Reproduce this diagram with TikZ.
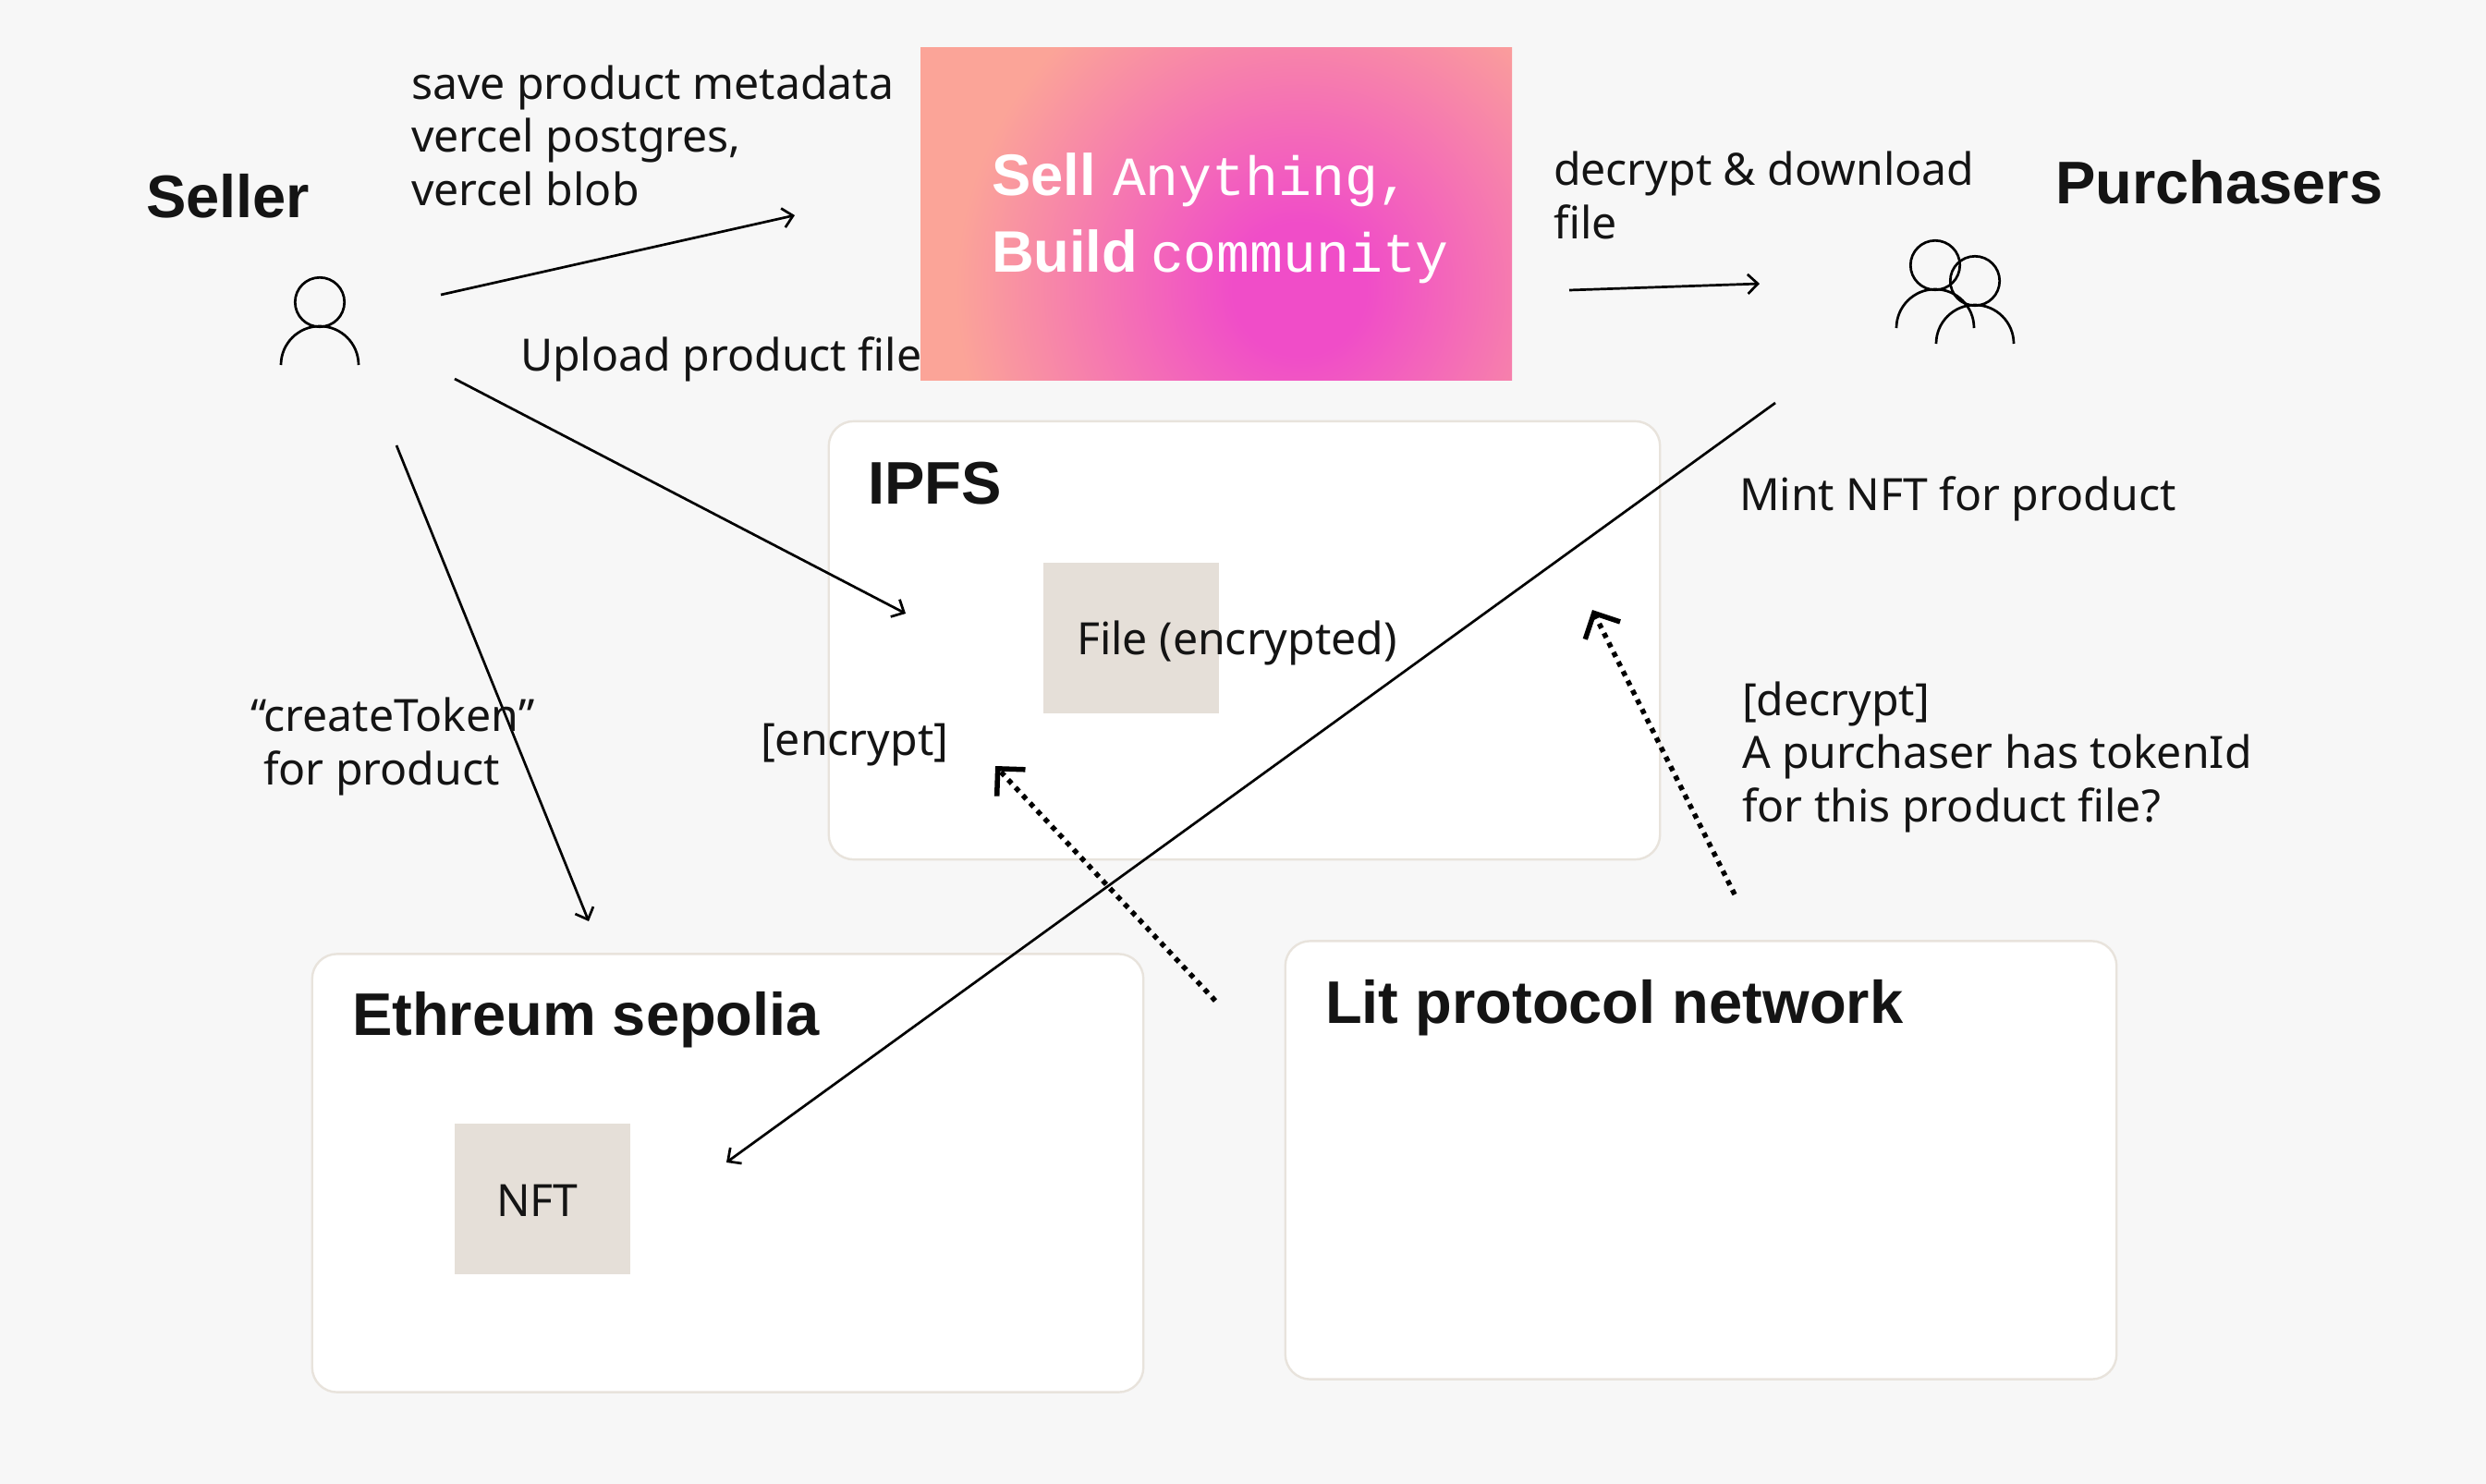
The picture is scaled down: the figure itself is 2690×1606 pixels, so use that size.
\documentclass[tikz,border=0pt]{standalone}
\usepackage{fontspec}
\setmainfont{Noto Sans}
\newfontfamily\titlefont{Liberation Sans}[BoldFont=* Bold]
\newfontfamily\pixelfont{Liberation Mono}
\usetikzlibrary{arrows.meta}
\definecolor{pagebg}{HTML}{F7F7F7}
\definecolor{panelline}{HTML}{E8E3DC}
\definecolor{chipfill}{HTML}{E5DFD8}
\definecolor{inkblack}{HTML}{141414}
\definecolor{salmon}{HTML}{FBA498}
\definecolor{pinkcore}{HTML}{F04DC8}
\pgfdeclareradialshading{pinkglow}{\pgfpoint{0bp}{0bp}}{color(0bp)=(pinkcore); color(3bp)=(pinkcore); color(15.5bp)=(salmon); color(50bp)=(salmon)}
\tikzset{
  lbl/.style={anchor=base west,inner sep=0pt,outer sep=0pt,align=left,text=inkblack,font={\fontsize{13.7}{16.3}\selectfont}},
  ttl/.style={anchor=base west,inner sep=0pt,outer sep=0pt,text=inkblack,font={\fontsize{18.5}{22}\selectfont\titlefont\bfseries}},
  panel/.style={draw=panelline,fill=white,rounded corners=0.27cm,line width=0.024cm,minimum width=8.99cm,minimum height=4.74cm,inner sep=0pt},
  chip/.style={fill=chipfill,minimum width=1.9cm,minimum height=1.63cm,inner sep=0pt},
  person/.style={line width=0.027cm,black},
  flow/.style={line width=0.027cm,black,-{Straight Barb[length=3.1pt,width=6pt]}},
  check/.style={line width=0.055cm,black,dash pattern=on 0.055cm off 0.06cm,-{Straight Barb[length=6pt,width=12pt]}},
  bannerbold/.style={anchor=base west,inner sep=0pt,outer sep=0pt,text=white,font={\fontsize{18}{20}\selectfont\titlefont\bfseries}},
  bannerpixel/.style={anchor=base west,inner sep=0pt,outer sep=0pt,text=white,font={\fontsize{17}{20}\selectfont\pixelfont}}
}
\begin{document}
\begin{tikzpicture}[x=0.01cm,y=-0.01cm]
  \useasboundingbox (0,0) rectangle (2690,1606);
  \fill[pagebg] (0,0) rectangle (2690,1606);

  \node[panel] (ipfs) at (1346.5,693) {};
  \node[panel] (eth) at (787.5,1269.5) {};
  \node[panel] (lit) at (1840.5,1255.5) {};
  \node[chip] (file) at (1224,690.5) {};
  \node[chip] (nft) at (587,1297.5) {};

  \begin{scope}
    \clip (996,51) rectangle (1636,411);
    \shade[shading=pinkglow] (1406,313) circle (600);
  \end{scope}
  \node[bannerbold] (sell) at (1073,211) {Sell};
  \node[bannerpixel] (anything) at (1204,211) {Anything,};
  \node[bannerbold] (build) at (1073,294) {Build};
  \node[bannerpixel] (community) at (1245,294) {community};

  \draw[person] (346,327) circle (26.7);
  \draw[person] (304,395) arc[start angle=180,end angle=360,radius=42];
  \draw[person] (2094,287) circle (26.7);
  \draw[person] (2052,355) arc[start angle=180,end angle=360,radius=42];
  \draw[person] (2137,304) circle (26.7);
  \draw[person] (2095,372) arc[start angle=180,end angle=360,radius=42];

  \coordinate (saveout) at (477,319);
  \coordinate (savein) at (860,233);
  \coordinate (uploadout) at (492,410);
  \coordinate (uploadin) at (980,664);
  \coordinate (tokenout) at (429,482);
  \coordinate (tokenin) at (637,997);
  \coordinate (fetchout) at (1698,314);
  \coordinate (fetchin) at (1904,307);
  \coordinate (mintout) at (1921,436);
  \coordinate (mintin) at (786,1258);
  \coordinate (encout) at (1315,1083);
  \coordinate (encin) at (1077,829);
  \coordinate (decout) at (1877,968);
  \coordinate (decin) at (1723,660);

  \draw[flow] (saveout) -- (savein);
  \draw[flow] (uploadout) -- (uploadin);
  \draw[flow] (tokenout) -- (tokenin);
  \draw[flow] (fetchout) -- (fetchin);
  \draw[flow] (mintout) -- (mintin);
  \draw[check] (encout) -- (encin);
  \draw[check] (decout) -- (decin);

  \node[ttl] (seller) at (158,235) {Seller};
  \node[ttl] (purchasers) at (2224,220) {Purchasers};
  \node[ttl] (ipfstitle) at (939,545) {IPFS};
  \node[ttl] (ethtitle) at (381,1120) {Ethreum sepolia};
  \node[ttl] (littitle) at (1434,1107) {Lit protocol network};

  \node[lbl] (savetext) at (445,222) {save product metadata\\vercel postgres,\\vercel blob};
  \node[lbl] (uploadtext) at (563,401) {Upload product file};
  \node[lbl] (tokentext) at (271,849) {“createToken”\\\hspace*{0.14cm}for product};
  \node[lbl] (enctext) at (823,817) {[encrypt]};
  \node[lbl] (filetext) at (1165,708) {File (encrypted)};
  \node[lbl] (nfttext) at (537,1316) {NFT};
  \node[lbl] (fetchtext) at (1681,258) {decrypt \& download\\file};
  \node[lbl] (minttext) at (1882,552) {Mint NFT for product};
  \node[lbl] (dectext) at (1885,889) {[decrypt]\\A purchaser has tokenId\\for this product file?};
\end{tikzpicture}
\end{document}
